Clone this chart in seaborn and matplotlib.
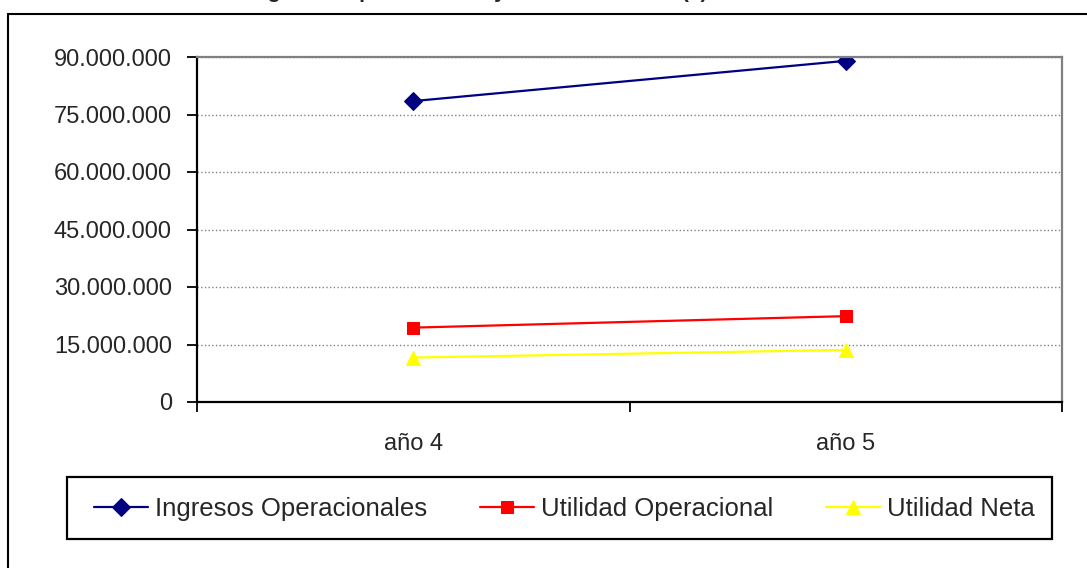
import pandas as pd
import numpy as np
import matplotlib.pyplot as plt
import seaborn as sns
from matplotlib.ticker import FuncFormatter, FixedLocator
from matplotlib.lines import Line2D
from matplotlib.patches import Rectangle

# Datos
anios = ['año 4', 'año 5']
ingresos_op = [78500000, 89000000]
utilidad_op = [19400000, 22400000]
utilidad_neta = [11600000, 13600000]
y_ticks = [0, 15000000, 30000000, 45000000, 60000000, 75000000, 90000000]

series = ['Ingresos Operacionales', 'Utilidad Operacional', 'Utilidad Neta']
colores = ['#000080', '#ff0000', '#ffff00']
marcadores = ['D', 's', '^']
tam_marcador = [9, 9, 10]

titulo = 'Ingresos Operacionales y Utilidades Netas ($)'

W, H = 1087, 568


def miles(num, pos):
    return f'{int(num):,}'.replace(',', '.')


df = pd.DataFrame({
    'anio': anios * 3,
    'valor': ingresos_op + utilidad_op + utilidad_neta,
    'serie': [s for s in series for _ in anios],
})

sns.set_style('white')
plt.rcParams['font.family'] = ['Liberation Sans', 'DejaVu Sans']

fig = plt.figure(figsize=(W / 100, H / 100), dpi=100)
ax = fig.add_axes([197 / W, 1 - 402 / H, 865 / W, 345 / H])

for s, c, m, ms in zip(series, colores, marcadores, tam_marcador):
    sub = df[df['serie'] == s]
    sns.lineplot(data=sub, x='anio', y='valor', color=c, marker=m,
                 markersize=ms, markeredgecolor=c, linewidth=1.6,
                 ax=ax, label=s, legend=False)

ax.set_xlim(-0.5, 1.5)
ax.set_ylim(0, 90000000)
ax.yaxis.set_major_locator(FixedLocator(y_ticks))
ax.yaxis.set_major_formatter(FuncFormatter(miles))
ax.set_xticks([-0.5, 0.5, 1.5])
ax.set_xticklabels([])
ax.set_xticks([0, 1], minor=True)
ax.set_xticklabels(anios, minor=True)
ax.tick_params(axis='x', which='minor', length=0, pad=22, labelsize=17)
ax.tick_params(axis='x', which='major', direction='out', length=7, width=1.3,
               color='black', bottom=True)
ax.tick_params(axis='y', direction='out', length=7, width=1.3, color='black',
               left=True, labelsize=17, pad=11)
ax.set_xlabel('')
ax.set_ylabel('')

ax.grid(axis='y', linestyle=':', color='#808080', linewidth=1.0)
ax.grid(axis='x', visible=False)
for lado in ['left', 'bottom']:
    ax.spines[lado].set_color('black')
    ax.spines[lado].set_linewidth(1.6)
for lado in ['top', 'right']:
    ax.spines[lado].set_color('#808080')
    ax.spines[lado].set_linewidth(1.6)

# Leyenda: una entrada por posición, dentro de una caja
handles, labels = ax.get_legend_handles_labels()
inicio_x = [94, 480, 826]
for h, l, x0 in zip(handles, labels, inicio_x):
    fig.legend([h], [l], loc='center left', bbox_to_anchor=(x0 / W, 1 - 509 / H),
               fontsize=18.5, frameon=False, handlelength=2.1,
               handletextpad=0.27, borderpad=0, borderaxespad=0)
fig.add_artist(Rectangle((67 / W, 1 - 539 / H), 985 / W, 62 / H, fill=False,
                         edgecolor='black', linewidth=1.6,
                         transform=fig.transFigure))

# Marco del área del gráfico (recortado)
fig.add_artist(Line2D([8 / W, 1.0], [1 - 14 / H, 1 - 14 / H],
                      color='black', linewidth=1.5, transform=fig.transFigure))
fig.add_artist(Line2D([8 / W, 8 / W], [0, 1 - 14 / H],
                      color='black', linewidth=1.5, transform=fig.transFigure))

# Título recortado en el borde superior (solo se ven los trazos inferiores)
fig.text(249 / W, 1 + 1.5 / H, titulo, fontsize=15.2, fontweight='bold',
         ha='left', va='baseline')

plt.savefig('out.png', dpi=100)
